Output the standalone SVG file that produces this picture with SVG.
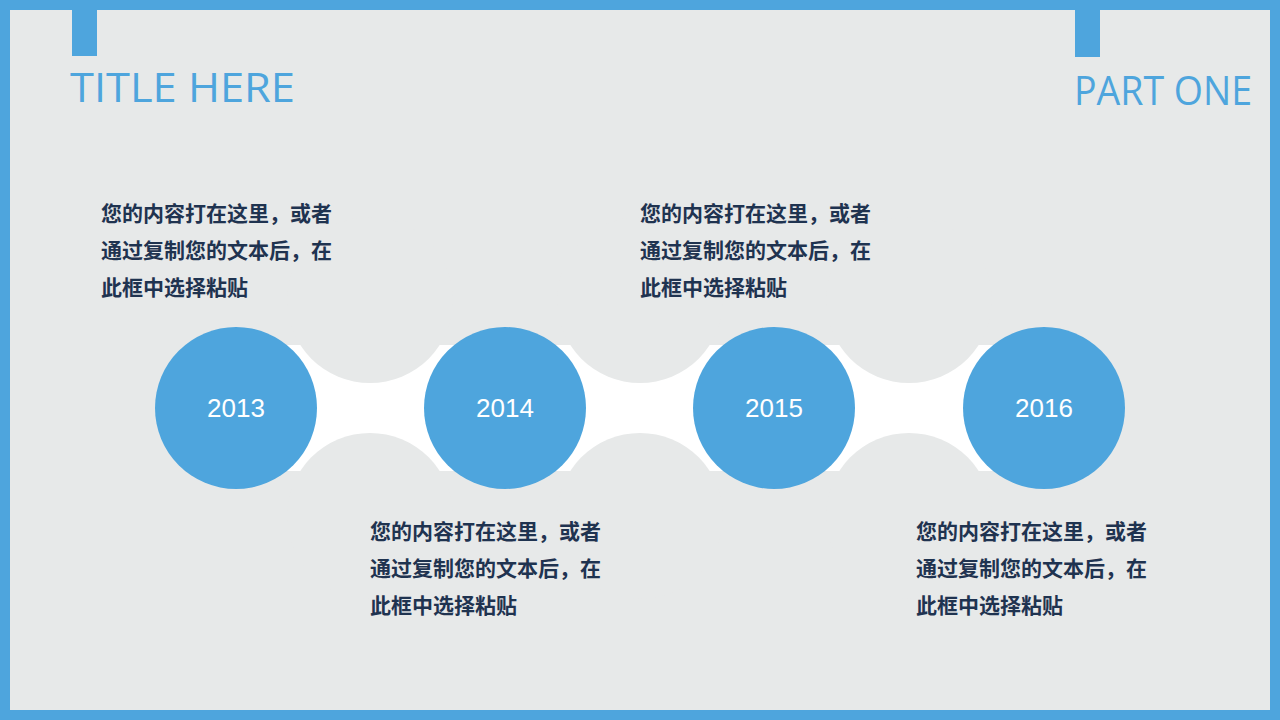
<svg xmlns="http://www.w3.org/2000/svg" width="1280" height="720" viewBox="0 0 1280 720">
<style>
.bg{fill:#e7e9e9}
.blue{fill:#4ea5dd}
.yr{font-family:"Liberation Sans",sans-serif;font-size:26px;fill:#fff;text-anchor:middle;font-weight:300}
.tt{font-family:"Open Sans","Liberation Sans",sans-serif;font-size:40px;fill:#4ea5dd}
.d{font-family:"Noto Sans CJK SC",sans-serif;font-size:21px;font-weight:bold;fill:#1f3350}
</style>
<rect width="1280" height="720" class="blue"/>
<rect x="10" y="10" width="1260" height="700" class="bg"/>
<rect x="72" y="10" width="25" height="46" class="blue"/>
<rect x="1075" y="10" width="25" height="47" class="blue"/>
<text class="tt" x="70" y="102" textLength="225" lengthAdjust="spacingAndGlyphs">TITLE HERE</text>
<text class="tt" x="1074" y="105" textLength="178" lengthAdjust="spacingAndGlyphs">PART ONE</text>
<g id="connectors">
<rect x="236" y="345" width="808" height="126" fill="#fff"/>
<circle cx="370" cy="300" r="83" class="bg"/>
<circle cx="370" cy="516" r="83" class="bg"/>
<circle cx="640" cy="300" r="83" class="bg"/>
<circle cx="640" cy="516" r="83" class="bg"/>
<circle cx="909" cy="300" r="83" class="bg"/>
<circle cx="909" cy="516" r="83" class="bg"/>
</g>
<g id="n2013"><circle cx="236" cy="408" r="81" class="blue"/><text class="yr" x="236" y="417">2013</text></g>
<g id="n2014"><circle cx="505" cy="408" r="81" class="blue"/><text class="yr" x="505" y="417">2014</text></g>
<g id="n2015"><circle cx="774" cy="408" r="81" class="blue"/><text class="yr" x="774" y="417">2015</text></g>
<g id="n2016"><circle cx="1044" cy="408" r="81" class="blue"/><text class="yr" x="1044" y="417">2016</text></g>
<g id="t1" class="d"><text x="101" y="221">您的内容打在这里，或者</text><text x="101" y="258">通过复制您的文本后，在</text><text x="101" y="295">此框中选择粘贴</text></g>
<g id="t2" class="d"><text x="370" y="539">您的内容打在这里，或者</text><text x="370" y="576">通过复制您的文本后，在</text><text x="370" y="613">此框中选择粘贴</text></g>
<g id="t3" class="d"><text x="640" y="221">您的内容打在这里，或者</text><text x="640" y="258">通过复制您的文本后，在</text><text x="640" y="295">此框中选择粘贴</text></g>
<g id="t4" class="d"><text x="916" y="539">您的内容打在这里，或者</text><text x="916" y="576">通过复制您的文本后，在</text><text x="916" y="613">此框中选择粘贴</text></g>
</svg>
